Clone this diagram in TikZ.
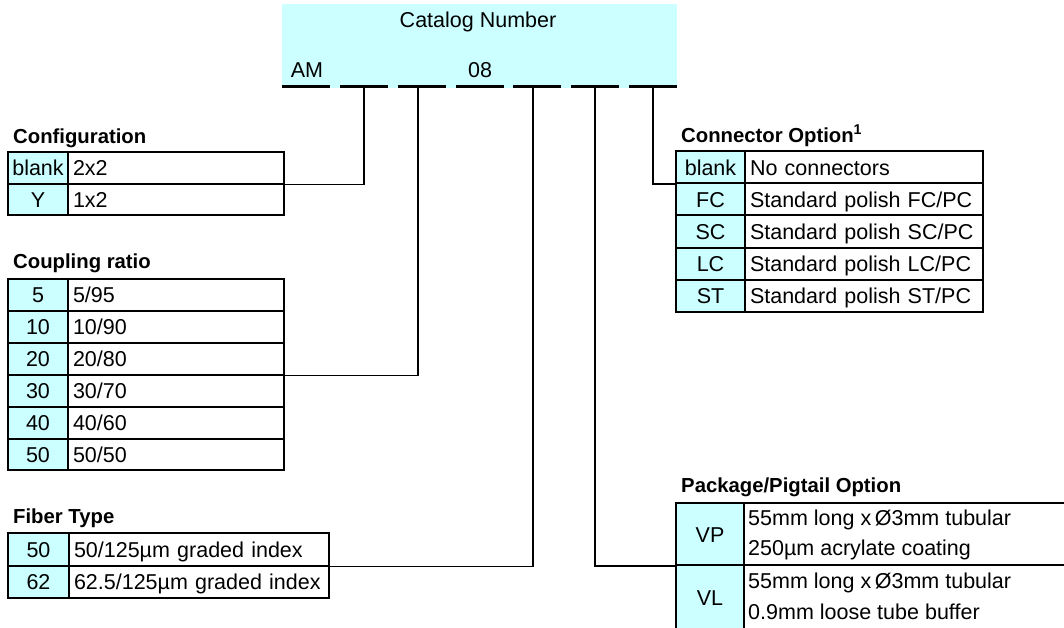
\documentclass[tikz,border=0pt]{standalone}
\usepackage{fontspec}
\setmainfont{Liberation Sans}
\definecolor{cyanbg}{HTML}{CCFFFF}
\newcommand\regfont{\fontsize{21.5}{26}\selectfont}
\tikzset{
  cellbase/.style={draw, line width=2pt, anchor=north west, inner ysep=0pt,
    text height=16pt, text depth=0pt, font=\regfont},
  codecell/.style={cellbase, fill=cyanbg, inner xsep=0pt},
  desccell/.style={cellbase, fill=white, inner xsep=5pt, align=left},
  titletext/.style={anchor=base west, inner sep=0pt, font=\bfseries\fontsize{20.3}{24}\selectfont},
  plaintext/.style={inner sep=0pt, font=\regfont},
  conn/.style={line width=1.5pt},
  dashseg/.style={fill=black, minimum width=48pt, minimum height=3pt, inner sep=0pt, anchor=north west}
}
% name, x0, x1, x2, ytop, h, code, desc
\newcommand\myrow[8]{%
  \pgfmathsetmacro\mycw{#3-#2}%
  \pgfmathsetmacro\mydw{#4-#3}%
  \pgfmathsetmacro\mytw{#4-#3-10}%
  \node[codecell, minimum width=\mycw pt, minimum height=#6pt] (#1c) at (#2,#5) {#7};
  \node[desccell, minimum width=\mydw pt, text width=\mytw pt, minimum height=#6pt] (#1d) at (#3,#5) {#8};
}
\begin{document}
\begin{tikzpicture}[x=1pt, y=-1pt]
\useasboundingbox (0,0) rectangle (1064,627);
\clip (0,0) rectangle (1064,627);
\fill[white] (0,0) rectangle (1064,627);

% header
\node[fill=cyanbg, minimum width=395pt, minimum height=84pt, inner sep=0pt, anchor=north west] (hdr) at (282,4) {};
\node[plaintext, anchor=base] (cat) at (478,27) {Catalog Number};
\node[plaintext, anchor=base] (am) at (307,77) {AM};
\node[plaintext, anchor=base] (n08) at (480,77) {08};
\node[dashseg] (d1) at (282,85) {};
\node[dashseg] (d2) at (340,85) {};
\node[dashseg] (d3) at (398,85) {};
\node[dashseg] (d4) at (456,85) {};
\node[dashseg] (d5) at (513,85) {};
\node[dashseg] (d6) at (571,85) {};
\node[dashseg] (d7) at (629,85) {};

% Configuration
\node[titletext] (tcfg) at (13,143) {Configuration};
\myrow{cfgA}{7}{67}{283}{151}{31.5}{blank}{2x2}
\myrow{cfgB}{7}{67}{283}{182.5}{31.5}{Y}{1x2}

% Coupling ratio
\node[titletext] (tcpl) at (13,268) {Coupling ratio};
\myrow{cplA}{7}{67}{283}{278}{31.9}{5}{5/95}
\myrow{cplB}{7}{67}{283}{309.9}{31.9}{10}{10/90}
\myrow{cplC}{7}{67}{283}{341.8}{31.9}{20}{20/80}
\myrow{cplD}{7}{67}{283}{373.7}{31.9}{30}{30/70}
\myrow{cplE}{7}{67}{283}{405.6}{31.9}{40}{40/60}
\myrow{cplF}{7}{67}{283}{437.5}{31.9}{50}{50/50}

% Fiber Type
\node[titletext] (tfib) at (13,523) {Fiber Type};
\myrow{fibA}{7}{68}{328}{532}{32.5}{50}{50/125µm graded index}
\myrow{fibB}{7}{68}{328}{564.5}{32.5}{62}{62.5/125µm graded index}

% Connector Option
\node[titletext] (tcon) at (681,142) {Connector Option\textsuperscript{1}};
\myrow{conA}{675}{744}{982}{150}{32.2}{blank}{No connectors}
\myrow{conB}{675}{744}{982}{182.2}{32.2}{FC}{Standard polish FC/PC}
\myrow{conC}{675}{744}{982}{214.4}{32.2}{SC}{Standard polish SC/PC}
\myrow{conD}{675}{744}{982}{246.6}{32.2}{LC}{Standard polish LC/PC}
\myrow{conE}{675}{744}{982}{278.8}{32.2}{ST}{Standard polish ST/PC}

% Package/Pigtail Option
\node[titletext] (tpkg) at (681,492) {Package/Pigtail Option};
\node[codecell, minimum width=68pt, minimum height=62pt] (pkgAc) at (675,502) {VP};
\node[cellbase, fill=white, minimum width=330pt, minimum height=62pt] (pkgAd) at (743,502) {};
\node[codecell, minimum width=68pt, minimum height=64pt] (pkgBc) at (675,564) {VL};
\node[cellbase, fill=white, minimum width=330pt, minimum height=64pt] (pkgBd) at (743,564) {};
\node[plaintext, anchor=base west] (pkA1) at (748,525) {55mm long x\,Ø3mm tubular};
\node[plaintext, anchor=base west] (pkA2) at (748,555) {250µm acrylate coating};
\node[plaintext, anchor=base west] (pkB1) at (748,588) {55mm long x\,Ø3mm tubular};
\node[plaintext, anchor=base west] (pkB2) at (748,619) {0.9mm loose tube buffer};

% connectors
\coordinate (t1) at (364,88);
\coordinate (t2) at (418,88);
\coordinate (t3) at (533,88);
\coordinate (t4) at (595,88);
\coordinate (t5) at (653,88);
\draw[conn] (t1) |- (cfgAd.south east);
\draw[conn] (t2) |- (cplCd.south east);
\draw[conn] (t3) |- (fibAd.south east);
\draw[conn] (t4) |- (pkgAc.south west);
\draw[conn] (t5) |- (conAc.south west);
\end{tikzpicture}
\end{document}
